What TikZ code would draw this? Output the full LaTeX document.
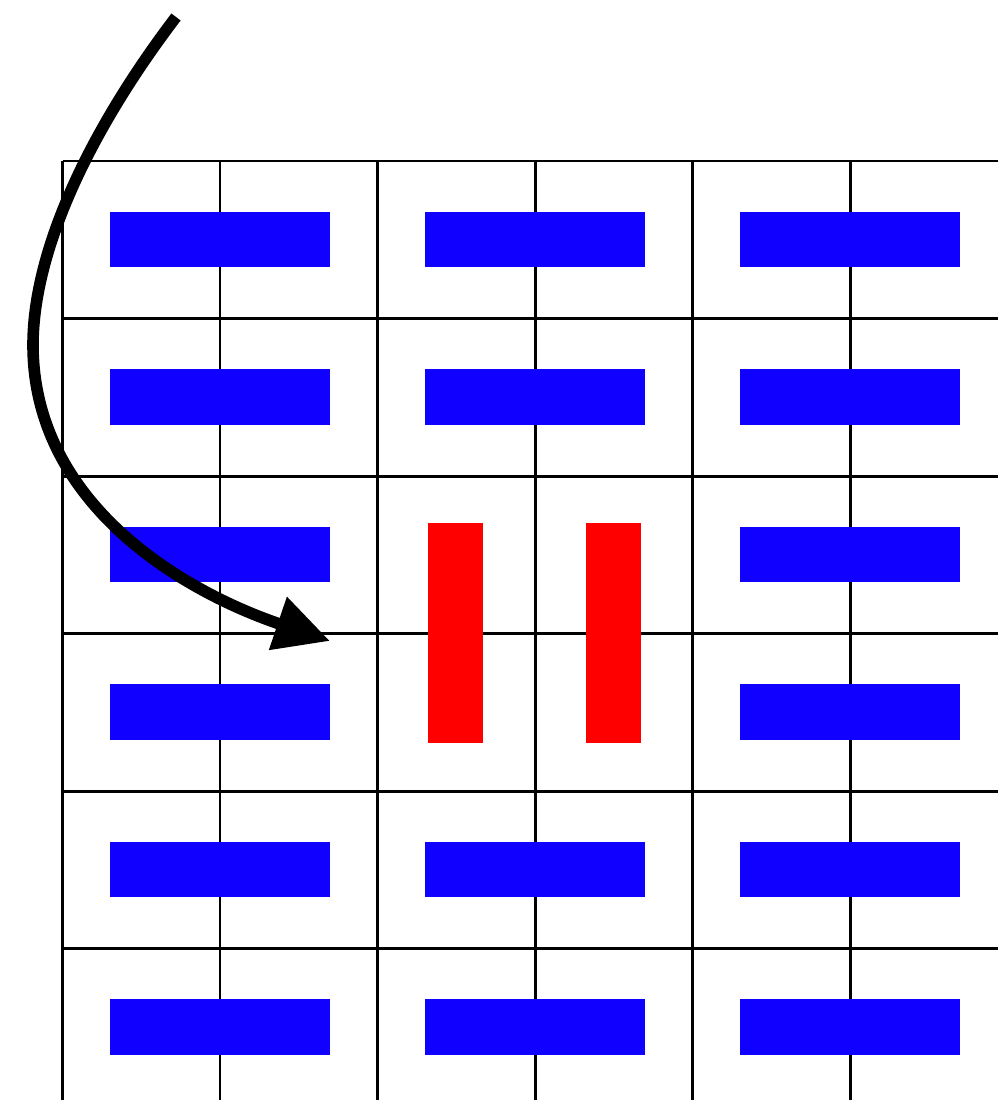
\documentclass[tikz,border=0pt]{standalone}
\usetikzlibrary{arrows.meta}
\definecolor{barblue}{RGB}{16,0,255}
\definecolor{barred}{RGB}{255,0,0}
\begin{document}
\begin{tikzpicture}[x=0.01cm,y=-0.01cm,
  gridline/.style={line width=0.85pt,black},
  hbar/.style={fill=barblue,draw=none,minimum width=2.2cm,minimum height=0.55cm,inner sep=0pt,outer sep=0pt},
  vbar/.style={fill=barred,draw=none,minimum width=0.555cm,minimum height=2.2cm,inner sep=0pt,outer sep=0pt},
  bigarrow/.style={line width=3.3pt,black,-{Triangle[length=0.55cm,width=0.53cm]}}]
\useasboundingbox (0,0) rectangle (998,1100);
\begin{scope}
\clip (0,0) rectangle (998,1100);
\foreach \i in {0,...,6} \draw[gridline] (62.5+157.5*\i,161) -- (62.5+157.5*\i,1120);
\foreach \j in {0,...,6} \draw[gridline] (62.5,161+157.5*\j) -- (1020,161+157.5*\j);
\end{scope}
% blue bars
\foreach \r/\y in {1/239.5,2/397,3/554.5,4/712,5/869.5,6/1027}{
  \node[hbar] (b\r a) at (220,\y) {};
  \node[hbar] (b\r c) at (850,\y) {};
}
\foreach \r/\y in {1/239.5,2/397,5/869.5,6/1027}{
  \node[hbar] (b\r b) at (535,\y) {};
}
% red bars
\node[vbar] (r1) at (455.5,633) {};
\node[vbar] (r2) at (613.5,633) {};
% arrow
\coordinate (start) at (176,17);
\coordinate (tip) at (330,641);
\draw[bigarrow] (start) .. controls (90,130) and (33,250) .. (33,345)
  .. controls (33,505) and (185,592) .. (tip);
\end{tikzpicture}
\end{document}
